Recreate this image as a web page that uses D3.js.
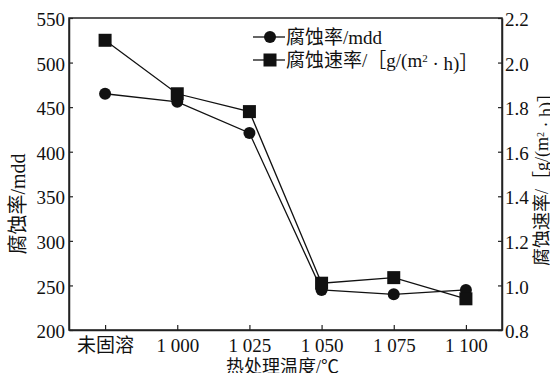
<!DOCTYPE html>
<html>
<head>
<meta charset="utf-8">
<script src="https://cdn.jsdelivr.net/npm/d3@7"></script>
<style>
body { margin: 0; background: #fff; }
text { font-family: "Liberation Serif", "Noto Sans CJK SC", serif; fill: #111; }
</style>
</head>
<body>
<div id="chart"></div>
<script>
// chart values
var categories = ["未固溶", "1 000", "1 025", "1 050", "1 075", "1 100"];
var rateMdd = [465, 456, 421, 245, 240, 245];
var rateGmh = [2.10, 1.86, 1.78, 1.01, 1.035, 0.94];
var leftTicks = [200, 250, 300, 350, 400, 450, 500, 550];
var rightTicks = [0.8, 1.0, 1.2, 1.4, 1.6, 1.8, 2.0, 2.2];

var margin = {top: 18, right: 48, bottom: 43, left: 69},
    width = 550 - margin.left - margin.right,
    height = 373 - margin.top - margin.bottom;

var svg = d3.select("#chart")
  .append("svg")
  .attr("width", 550)
  .attr("height", 373)
  .append("g")
  .attr("transform", "translate(" + margin.left + "," + margin.top + ")");

var x = d3.scalePoint()
  .domain(categories)
  .range([0, width])
  .padding(0.5);

var yL = d3.scaleLinear().domain([200, 550]).range([height, 0]);
var yR = d3.scaleLinear().domain([0.8, 2.2]).range([height, 0]);

// frame
svg.append("rect")
  .attr("width", width)
  .attr("height", height)
  .attr("fill", "none")
  .attr("stroke", "#222")
  .attr("stroke-width", 1.5);

// axes
var xAxis = svg.append("g")
  .attr("transform", "translate(0," + height + ")")
  .call(d3.axisBottom(x).tickSizeInner(-5).tickSizeOuter(0).tickPadding(9));
xAxis.selectAll("text").style("font-size", "19px");

var lAxis = svg.append("g")
  .call(d3.axisLeft(yL).tickValues(leftTicks).tickSizeInner(-4).tickSizeOuter(0).tickPadding(4));
lAxis.selectAll("text").style("font-size", "19px").attr("dy", "0.4em");

var rAxis = svg.append("g")
  .attr("transform", "translate(" + width + ",0)")
  .call(d3.axisRight(yR).tickValues(rightTicks).tickFormat(d3.format(".1f")).tickSizeInner(-4).tickSizeOuter(0).tickPadding(3));
rAxis.selectAll("text").style("font-size", "19px").attr("dy", "0.4em");

svg.selectAll(".domain").attr("stroke", "#222").attr("stroke-width", 1.5);
svg.selectAll(".tick line").attr("stroke", "#222").attr("stroke-width", 1.2);

// series lines
var lineL = d3.line()
  .x(function(d, i) { return x(categories[i]); })
  .y(function(d) { return yL(d); });
var lineR = d3.line()
  .x(function(d, i) { return x(categories[i]); })
  .y(function(d) { return yR(d); });

svg.append("path").datum(rateMdd)
  .attr("d", lineL).attr("fill", "none").attr("stroke", "#111").attr("stroke-width", 1.3);
svg.append("path").datum(rateGmh)
  .attr("d", lineR).attr("fill", "none").attr("stroke", "#111").attr("stroke-width", 1.3);

svg.selectAll(".dotc")
  .data(rateMdd)
  .enter().append("circle")
  .attr("cx", function(d, i) { return x(categories[i]); })
  .attr("cy", function(d) { return yL(d); })
  .attr("r", 6)
  .attr("fill", "#111");

svg.selectAll(".dots")
  .data(rateGmh)
  .enter().append("rect")
  .attr("x", function(d, i) { return x(categories[i]) - 6.5; })
  .attr("y", function(d) { return yR(d) - 6.5; })
  .attr("width", 13)
  .attr("height", 13)
  .attr("fill", "#111");

// legend
var lg = svg.append("g").attr("transform", "translate(184,19)");
lg.append("line").attr("x1", 0).attr("x2", 32).attr("y1", 0).attr("y2", 0).attr("stroke", "#111").attr("stroke-width", 1.3);
lg.append("circle").attr("cx", 17).attr("cy", 0).attr("r", 6).attr("fill", "#111");
lg.append("text").attr("x", 33).attr("y", 0).attr("dy", "0.35em").style("font-size", "19px").text("腐蚀率/mdd");
lg.append("line").attr("x1", 0).attr("x2", 32).attr("y1", 23).attr("y2", 23).attr("stroke", "#111").attr("stroke-width", 1.3);
lg.append("rect").attr("x", 10.5).attr("y", 16.5).attr("width", 13).attr("height", 13).attr("fill", "#111");
var t2 = lg.append("text").attr("x", 33).attr("y", 23).attr("dy", "0.35em").style("font-size", "19px");
t2.append("tspan").text("腐蚀速率/［g/(m");
t2.append("tspan").attr("dy", "-0.45em").style("font-size", "11px").text("2");
t2.append("tspan").attr("dy", "0.45em").text(" · h)］");

// axis titles
svg.append("text")
  .attr("x", width / 2 - 3)
  .attr("y", height + 43)
  .style("text-anchor", "middle")
  .style("font-size", "18px")
  .text("热处理温度/℃");

svg.append("text")
  .attr("transform", "translate(-44," + (height / 2 + 30) + ")rotate(-90)")
  .style("text-anchor", "middle")
  .style("font-size", "20px")
  .text("腐蚀率/mdd");

var rt = svg.append("text")
  .attr("transform", "translate(" + (width + 46) + "," + (height / 2 + 1) + ")rotate(-90)")
  .style("text-anchor", "middle")
  .style("font-size", "18px");
rt.append("tspan").text("腐蚀速率/［g/(m");
rt.append("tspan").attr("dy", "-0.45em").style("font-size", "10px").text("2");
rt.append("tspan").attr("dy", "0.45em").text(" · h)］");
</script>
</body>
</html>
